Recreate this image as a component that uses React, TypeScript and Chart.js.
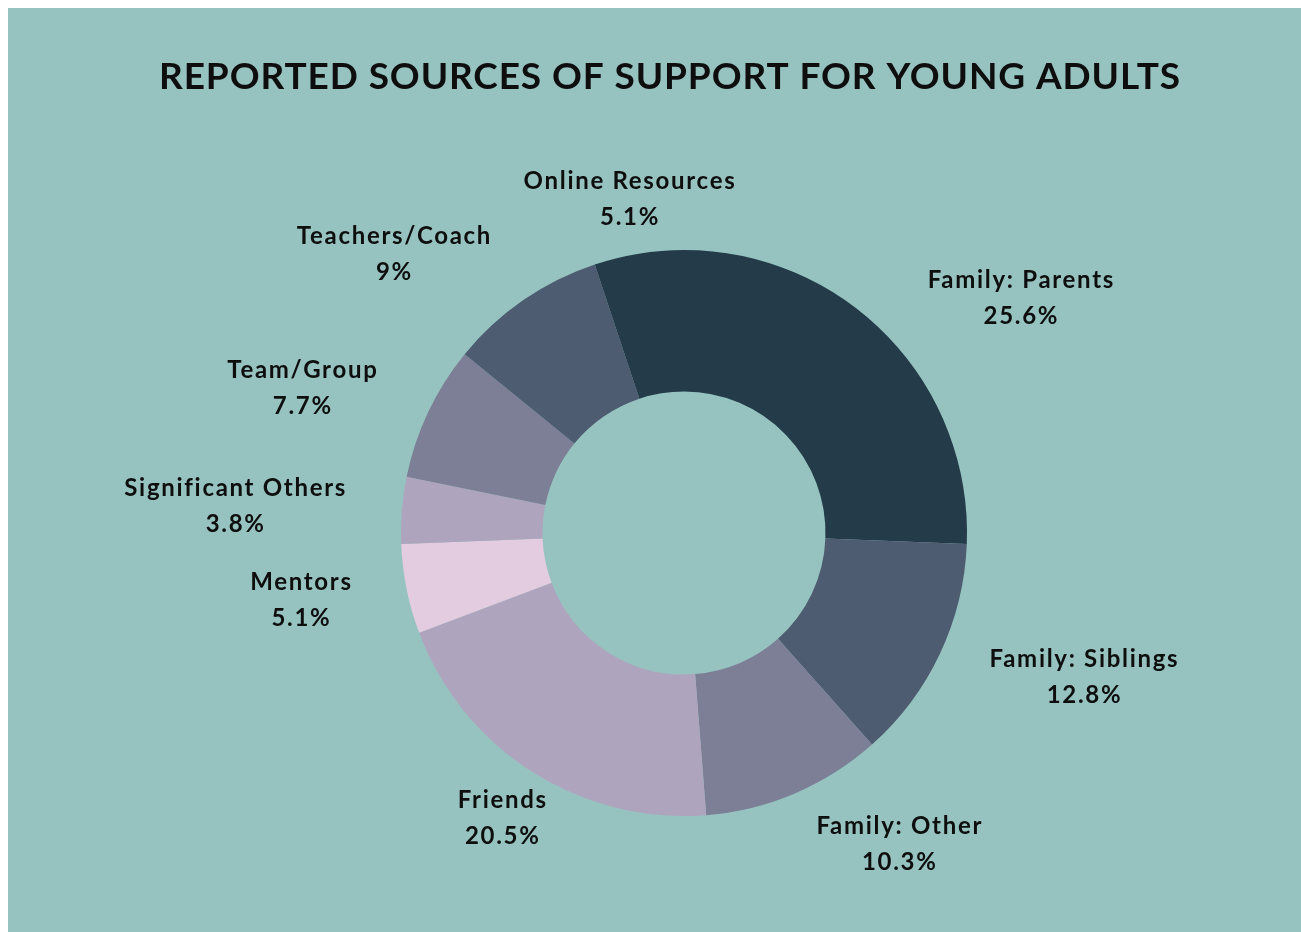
import React, { useEffect, useRef } from "react";
import { Chart, registerables } from "chart.js";

Chart.register(...registerables);

const titleText = "REPORTED SOURCES OF SUPPORT FOR YOUNG ADULTS";
const categories = [
  "Family: Parents",
  "Family: Siblings",
  "Family: Other",
  "Friends",
  "Mentors",
  "Significant Others",
  "Team/Group",
  "Teachers/Coach",
  "Online Resources",
];
const values = [25.6, 12.8, 10.3, 20.5, 5.1, 3.8, 7.7, 9, 5.1];
const colors = [
  "#243C4A",
  "#4D5C70",
  "#7C7F96",
  "#AFA4BD",
  "#E3CBE0",
  "#AFA4BD",
  "#7C7F96",
  "#4D5C70",
  "#243C4A",
];
const labelAlign = ["left", "left", "left", "center", "right", "right", "right", "right", "center"];

const BG = "#96C3C0";
const FONT = "Lato, 'Noto Sans', sans-serif";

const labelPlugin = {
  id: "outerLabels",
  afterDraw(chart: any) {
    const ctx = chart.ctx as any;
    ctx.save();
    // title
    ctx.fillStyle = "#0E0E0E";
    ctx.font = `bold 37px ${FONT}`;
    ctx.letterSpacing = "0.9px";
    ctx.textAlign = "center";
    ctx.textBaseline = "middle";
    ctx.fillText(titleText, 662, 69);

    const meta = chart.getDatasetMeta(0);
    ctx.font = `bold 24px ${FONT}`;
    ctx.letterSpacing = "1.7px";
    meta.data.forEach((arc: any, i: number) => {
      const p = arc.getProps(["x", "y", "startAngle", "endAngle", "outerRadius"], true);
      const mid = (p.startAngle + p.endAngle) / 2;
      const r = p.outerRadius + 55;
      const ax = p.x + Math.cos(mid) * r;
      const ay = p.y + Math.sin(mid) * r;
      const l1 = categories[i];
      const l2 = `${values[i]}%`;
      const w = Math.max(ctx.measureText(l1).width, ctx.measureText(l2).width);
      let cx = ax;
      if (labelAlign[i] === "left") cx = ax + w / 2;
      else if (labelAlign[i] === "right") cx = ax - w / 2;
      ctx.textAlign = "center";
      ctx.textBaseline = "middle";
      ctx.fillText(l1, cx, ay - 18);
      ctx.fillText(l2, cx, ay + 18);
    });
    ctx.restore();
  },
};

export default function App() {
  const ref = useRef<HTMLCanvasElement | null>(null);
  useEffect(() => {
    if (!ref.current) return;
    const chart = new Chart(ref.current, {
      type: "doughnut",
      data: {
        labels: categories,
        datasets: [
          {
            data: values,
            backgroundColor: colors,
            borderWidth: 0,
            hoverOffset: 0,
          },
        ],
      },
      options: {
        animation: false,
        responsive: true,
        maintainAspectRatio: false,
        cutout: "50%",
        layout: { padding: { top: 242, bottom: 116, left: 200, right: 141 } },
        plugins: {
          legend: { display: false },
          title: { display: false },
          tooltip: { enabled: false },
        },
      },
      plugins: [labelPlugin],
    });
    return () => chart.destroy();
  }, []);
  return (
    <div
      style={{
        position: "fixed",
        left: 8,
        top: 8,
        width: 1293,
        height: 924,
        background: BG,
      }}
    >
      <canvas ref={ref} />
    </div>
  );
}
